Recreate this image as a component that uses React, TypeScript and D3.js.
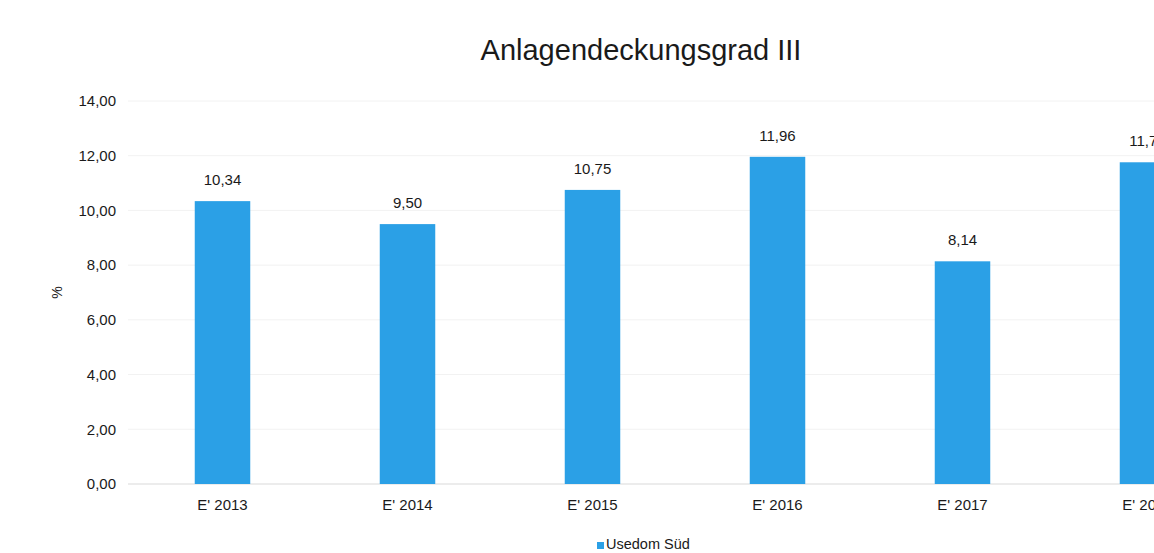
import React, { useEffect, useRef } from "react";
import * as d3 from "d3";

const categories = ["E' 2013", "E' 2014", "E' 2015", "E' 2016", "E' 2017", "E' 2018"];
const values = [10.34, 9.5, 10.75, 11.96, 8.14, 11.76];
const yTicks = [0, 2, 4, 6, 8, 10, 12, 14];
const seriesName = "Usedom Süd";
const chartTitle = "Anlagendeckungsgrad III";

const fmt = (v: number) => v.toFixed(2).replace(".", ",");

const App = () => {
  const svgRef = useRef<SVGSVGElement>(null);

  useEffect(() => {
    const svg = d3.select(svgRef.current);
    svg.selectAll("*").remove();

    const width = 1154;
    const height = 553;
    const font = "Liberation Sans, Arial, sans-serif";
    const barColor = "#2ba0e6";
    const textColor = "#1a1a1a";

    svg.append("rect").attr("width", width).attr("height", height).attr("fill", "#fff");

    // scales
    const x = d3.scaleBand().domain(categories).range([130, 1240]).paddingInner(0.7).paddingOuter(0.35);
    const y = d3.scaleLinear().domain([0, 14]).range([484, 101]);

    // gridlines
    svg
      .append("g")
      .selectAll("line")
      .data(yTicks)
      .enter()
      .append("line")
      .attr("x1", 128)
      .attr("x2", width)
      .attr("y1", (d) => y(d))
      .attr("y2", (d) => y(d))
      .attr("stroke", (d) => (d === 0 ? "#d9d9d9" : "#f2f2f2"))
      .attr("stroke-width", 1);

    // y axis labels
    svg
      .append("g")
      .selectAll("text")
      .data(yTicks)
      .enter()
      .append("text")
      .attr("x", 116)
      .attr("y", (d) => y(d))
      .attr("dy", "0.35em")
      .attr("text-anchor", "end")
      .attr("font-family", font)
      .attr("font-size", 15)
      .attr("fill", textColor)
      .text((d) => fmt(d));

    svg
      .append("text")
      .attr("transform", `translate(62,${y(7)}) rotate(-90)`)
      .attr("text-anchor", "middle")
      .attr("font-family", font)
      .attr("font-size", 14)
      .attr("fill", textColor)
      .text("%");

    // bars
    svg
      .append("g")
      .selectAll("rect")
      .data(values)
      .enter()
      .append("rect")
      .attr("x", (d, i) => x(categories[i])!)
      .attr("y", (d) => y(d))
      .attr("width", x.bandwidth())
      .attr("height", (d) => y(0) - y(d))
      .attr("fill", barColor);

    // value labels
    svg
      .append("g")
      .selectAll("text")
      .data(values)
      .enter()
      .append("text")
      .attr("x", (d, i) => x(categories[i])! + x.bandwidth() / 2)
      .attr("y", (d) => y(d) - 16)
      .attr("text-anchor", "middle")
      .attr("font-family", font)
      .attr("font-size", 15)
      .attr("fill", textColor)
      .text((d) => fmt(d));

    // category labels
    svg
      .append("g")
      .selectAll("text")
      .data(categories)
      .enter()
      .append("text")
      .attr("x", (d) => x(d)! + x.bandwidth() / 2)
      .attr("y", 510)
      .attr("text-anchor", "middle")
      .attr("font-family", font)
      .attr("font-size", 15)
      .attr("fill", textColor)
      .text((d) => d);

    // title
    svg
      .append("text")
      .attr("x", 641)
      .attr("y", 60)
      .attr("text-anchor", "middle")
      .attr("font-family", font)
      .attr("font-size", 29)
      .attr("fill", textColor)
      .text(chartTitle);

    // legend
    svg.append("rect").attr("x", 597).attr("y", 542).attr("width", 7).attr("height", 7).attr("fill", barColor);
    svg
      .append("text")
      .attr("x", 606)
      .attr("y", 549)
      .attr("font-family", font)
      .attr("font-size", 14.5)
      .attr("fill", textColor)
      .text(seriesName);
  }, []);

  return (
    <div style={{ position: "fixed", left: 0, top: 0 }}>
      <svg ref={svgRef} width={1154} height={553} style={{ display: "block" }}></svg>
    </div>
  );
};

export default App;
